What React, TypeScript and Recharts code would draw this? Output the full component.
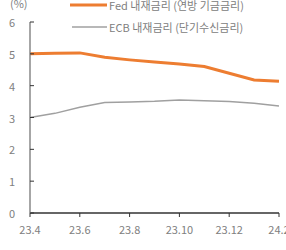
import React from 'react';
import { LineChart, Line, XAxis, YAxis } from 'recharts';

const months = ['23.4', '23.5', '23.6', '23.7', '23.8', '23.9', '23.10', '23.11', '23.12', '24.1', '24.2'];
const fedValues = [5.0, 5.02, 5.03, 4.89, 4.81, 4.74, 4.68, 4.6, 4.39, 4.18, 4.14];
const ecbValues = [3.0, 3.13, 3.32, 3.47, 3.49, 3.51, 3.55, 3.53, 3.5, 3.45, 3.36];
const yTicks = [0, 1, 2, 3, 4, 5, 6];
const fedName = 'Fed 내재금리 (연방 기금금리)';
const ecbName = 'ECB 내재금리 (단기수신금리)';
const unitLabel = '(%)';

const data = months.map((m, i) => ({ label: m, fed: fedValues[i], ecb: ecbValues[i] }));

const FONT = '"Noto Sans CJK KR", "Noto Sans", sans-serif';
const TEXT = '#808080';
const ORANGE = '#ED7D31';
const GRAY = '#A0A0A0';

const YTick = (props: any) => {
  const { x, y, payload } = props;
  return (
    <g>
      <line x1={x + 15} x2={x + 19} y1={y} y2={y} stroke="#333" strokeWidth={1} />
      <text x={x} y={y} textAnchor="end" dominantBaseline="central" fill={TEXT} fontSize={11} fontFamily={FONT}>
        {payload.value}
      </text>
    </g>
  );
};

const LegendOverlay = () => (
  <svg width={286} height={40} style={{ position: 'absolute', left: 0, top: 0, overflow: 'visible' }}>
    <text x={10} y={8} fill={TEXT} fontSize={11} fontFamily={FONT}>{unitLabel}</text>
    <line x1={70} x2={107} y1={5} y2={5} stroke={ORANGE} strokeWidth={3} />
    <text x={109} y={5} dominantBaseline="central" fill={TEXT} fontSize={11} fontFamily={FONT}>{fedName}</text>
    <line x1={72} x2={107} y1={27} y2={27} stroke={GRAY} strokeWidth={1.5} />
    <text x={109} y={27} dominantBaseline="central" fill={TEXT} fontSize={11} fontFamily={FONT}>{ecbName}</text>
  </svg>
);

export default function App() {
  return (
    <div style={{ position: 'absolute', left: 0, top: 0, width: 286, height: 250 }}>
      <LineChart width={286} height={250} data={data} margin={{ top: 22, right: 7, bottom: 7, left: 0 }} style={{ overflow: 'visible' }}>
        <XAxis
          dataKey="label"
          height={30}
          interval={1}
          padding={{ left: 0, right: 0 }}
          axisLine={{ stroke: '#333', strokeWidth: 1.5 }}
          tickLine={{ stroke: '#333' }}
          tickSize={4}
          tickMargin={9}
          tick={{ fill: TEXT, fontSize: 11, fontFamily: FONT }}
        />
        <YAxis
          width={30}
          domain={[0, 6]}
          ticks={yTicks}
          interval={0}
          axisLine={{ stroke: '#888', strokeWidth: 1.5 }}
          tickLine={false}
          tickSize={0}
          tickMargin={15}
          tick={<YTick />}
        />
        <Line type="linear" dataKey="ecb" name={ecbName} stroke={GRAY} strokeWidth={1.5} dot={false} isAnimationActive={false} />
        <Line type="linear" dataKey="fed" name={fedName} stroke={ORANGE} strokeWidth={3} dot={false} isAnimationActive={false} />
      </LineChart>
      <LegendOverlay />
    </div>
  );
}
